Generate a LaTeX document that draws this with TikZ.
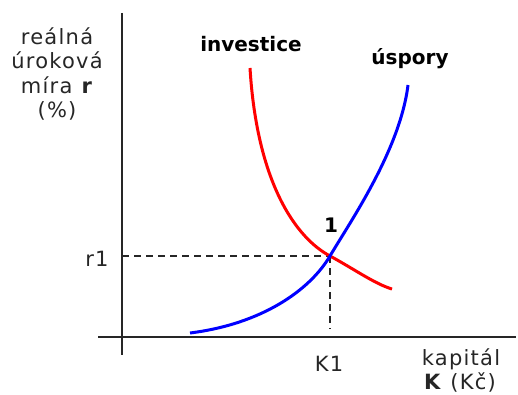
\documentclass[tikz,border=0pt]{standalone}
\usepackage{fontspec}
\setmainfont{DejaVu Sans}
\newfontfamily\lblfont[LetterSpace=6]{DejaVu Sans}
\begin{document}
\begin{tikzpicture}[x=1pt,y=-1pt,
  axis/.style={draw=black!85, line width=2pt},
  guide/.style={draw=black!85, line width=1.3pt, dash pattern=on 7pt off 5pt},
  curve/.style={line width=3pt},
  lbl/.style={font=\fontsize{21}{24.5}\selectfont\lblfont, inner sep=0pt, align=center, text=black!85},
  blbl/.style={font=\fontsize{20}{24}\selectfont\bfseries, inner sep=0pt}]
\useasboundingbox (0,0) rectangle (518,395);
% axes
\coordinate (ytop) at (122,13);
\coordinate (ybot) at (122,355);
\coordinate (xl) at (98,337);
\coordinate (xr) at (516,337);
\draw[axis] (ytop) -- (ybot);
\draw[axis] (xl) -- (xr);
% equilibrium
\coordinate (E) at (330,256);
\coordinate (Ey) at (122,256);
\coordinate (Ex) at (330,329);
\draw[guide] (Ey) -- (E);
\draw[guide] (E) -- (Ex);
% curves
\draw[curve, red] (250,68) .. controls (257,183) and (296,238) .. (E)
  .. controls (354,269) and (375,284) .. (392,289);
\draw[curve, blue] (190,333) .. controls (262,324) and (310,290) .. (E)
  .. controls (350,222) and (400,150) .. (408,85);
% labels
\node[lbl] (ylab) at (57,74) {reálná\\úroková\\míra \textbf{r}\\(\%)};
\node[blbl, anchor=base] (inv) at (251,52) {investice};
\node[blbl, anchor=base] (usp) at (410,65) {úspory};
\node[blbl] (one) at (331,225) {1};
\node[lbl] (r1) at (97,259) {r1};
\node[lbl] (k1) at (329,364) {K1};
\node[lbl, anchor=base] (xlab1) at (461,365) {kapitál};
\node[lbl, anchor=base] (xlab2) at (460,389) {\textbf{K} (Kč)};
\end{tikzpicture}
\end{document}
